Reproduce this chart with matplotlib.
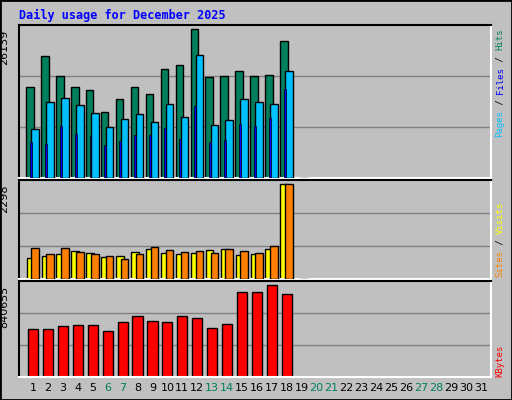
import matplotlib
matplotlib.use("Agg")
import matplotlib.pyplot as plt
import numpy as np

days = list(range(1, 20))
hits = [16030,21530,17980,16030,15500,11600,13900,16030,14790,19220,19930,26139,17800,17980,18870,17980,18160,24010,0]
files = [8580,13370,14080,12840,11420,8940,10360,11240,9820,13020,10710,21700,9290,10180,13900,13370,13020,18870,0]
pages = [6280,5920,9110,7700,7340,5750,6450,7520,7520,8760,6810,12660,6280,6630,9470,9110,10530,15680,0]
visits = [508,558,608,683,633,533,558,658,733,633,608,633,708,733,583,608,733,2298,0]
sites = [758,608,758,658,608,558,483,608,783,708,658,683,633,733,683,633,808,2298,0]
kbytes = [444880,444880,472490,481690,481690,426470,509300,555330,518510,509300,555330,546120,454080,490900,776230,776230,840655,757820,0]
xlabels = [str(d) for d in range(1, 32)]
weekend = [6, 7, 13, 14, 20, 21, 27, 28]

W, H = 512, 400
fig = plt.figure(figsize=(W/100, H/100), dpi=100)
fig.patch.set_facecolor("#C0C0C0")
mono = "DejaVu Sans Mono"
X0, X1 = 0.06, 31.68

def mkax(top, bot):
    ax = fig.add_axes([19/W, 1-bot/H, (491-19)/W, (bot-top)/H])
    ax.set_facecolor("#C0C0C0")
    ax.set_xlim(X0, X1)
    for s in ["top", "left"]:
        ax.spines[s].set_color("black"); ax.spines[s].set_linewidth(1.5)
    for s in ["bottom", "right"]:
        ax.spines[s].set_color("white"); ax.spines[s].set_linewidth(1.5)
    ax.set_xticks([]); ax.set_yticks([])
    return ax

x = np.array(days)
ec = dict(edgecolor="black", linewidth=1)

ax1 = mkax(25, 178)
top1 = max(hits) * 151.7 / 147.4
ax1.set_ylim(0, top1)
for f in (1/3, 2/3):
    ax1.axhline(top1*f, color="#808080", lw=1, zorder=0)
ax1.bar(x - 0.2, hits, width=0.5, color="#00805C", zorder=2, **ec)
ax1.bar(x + 0.14, files, width=0.5, color="#00C0FF", zorder=3, **ec)
ax1.bar(x - 0.15, pages, width=0.13, color="#0000FF", zorder=4, edgecolor="black", linewidth=0.5)
ax1.text(-0.02, max(hits)/top1, str(max(hits)), transform=ax1.transAxes, rotation=90,
         ha="right", va="top", fontsize=8)

ax2 = mkax(180, 279)
top2 = max(visits) * 96 / 92
ax2.set_ylim(0, top2)
for f in (1/3, 2/3):
    ax2.axhline(top2*f, color="#808080", lw=1, zorder=0)
ax2.bar(x - 0.18, visits, width=0.5, color="#FFFF00", zorder=2, **ec)
ax2.bar(x + 0.14, sites, width=0.5, color="#FF8000", zorder=3, **ec)
ax2.text(-0.02, max(visits)/top2, str(max(visits)), transform=ax2.transAxes, rotation=90,
         ha="right", va="top", fontsize=8)

ax3 = mkax(281, 377)
top3 = max(kbytes) * 95.7 / 91.3
ax3.set_ylim(0, top3)
for f in (1/3, 2/3):
    ax3.axhline(top3*f, color="#808080", lw=1, zorder=0)
ax3.bar(x, kbytes, width=0.68, color="#FF0000", zorder=2, **ec)
ax3.text(-0.02, max(kbytes)/top3, str(max(kbytes)), transform=ax3.transAxes, rotation=90,
         ha="right", va="top", fontsize=8)

for i, lab in enumerate(xlabels):
    d = i + 1
    xf = (19 + (d - X0) / (X1 - X0) * (491 - 19)) / W
    fig.text(xf, 1 - 388/H, lab, ha="center", va="center", fontsize=8,
             color="#00805C" if d in weekend else "black")

fig.text(19/W, 1-15/H, "Daily usage for December 2025", color="#0000FF",
         fontsize=8.5, fontweight="bold", family=mono, va="center", ha="left")

CH = 5.42
def rlabel(parts, ybot):
    y = ybot
    for txt, col in parts:
        fig.text(500/W, 1 - y/H, txt, rotation=90, color=col, fontsize=6.5,
                 family=mono, ha="center", va="bottom")
        y -= len(txt) * CH

rlabel([("Pages", "#00C0FF"), (" / ", "black"), ("Files", "#0000FF"), (" / ", "black"), ("Hits", "#00805C")], 137)
rlabel([("Sites", "#FF8000"), (" / ", "black"), ("Visits", "#FFFF00")], 277)
rlabel([("KBytes", "#FF0000")], 377)

fig.add_artist(plt.Rectangle((0, 0), 1, 1, transform=fig.transFigure, fill=False,
                             edgecolor="black", linewidth=2))
fig.savefig("out.png", dpi=100, facecolor=fig.get_facecolor())
